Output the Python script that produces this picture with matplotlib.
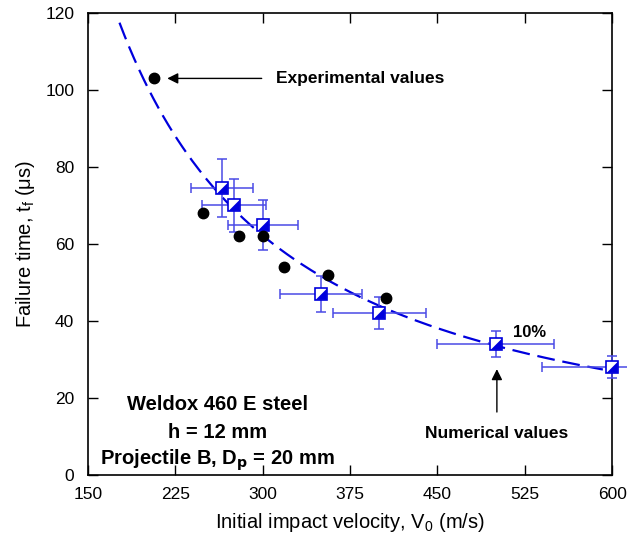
import numpy as np
import matplotlib
matplotlib.use('Agg')
import matplotlib.pyplot as plt
from matplotlib.path import Path

plt.rcParams['font.family'] = ['Liberation Sans', 'DejaVu Sans']
plt.rcParams['mathtext.default'] = 'regular'

# experimental failure times
v_exp = [207, 249, 280, 300, 318, 356, 406]
t_exp = [103, 68, 62, 62, 54, 52, 46]

# numerical failure times (error bars are 10 %)
v_num = [265, 275, 300, 350, 400, 500, 600]
t_num = [74.5, 70, 65, 47, 42, 34, 28]
err_frac = 0.10

v_num = np.array(v_num, dtype=float)
t_num = np.array(t_num, dtype=float)

# power-law trend through the numerical values
b, ln_a = np.polyfit(np.log(v_num), np.log(t_num), 1)
v_fit = np.linspace(177, 592, 200)
t_fit = np.exp(ln_a) * v_fit ** b

blue = '#0000dd'
ebar = '#4a4ae6'

fig = plt.figure(figsize=(6.27, 5.4), dpi=100)
ax = fig.add_axes([0.1404, 0.1204, 0.836, 0.8556])

ax.plot(v_fit, t_fit, color=blue, lw=1.6, dashes=(8, 3.5), zorder=2)

ax.errorbar(v_num, t_num, xerr=err_frac * v_num, yerr=err_frac * t_num,
            fmt='none', ecolor=ebar, elinewidth=1.1, capsize=3.5, capthick=1.1,
            zorder=3, clip_on=False)

# half-filled square: open square plus a filled lower-right triangle
tri = Path([(-1, -1), (1, -1), (1, 1), (-1, -1)],
           [Path.MOVETO, Path.LINETO, Path.LINETO, Path.CLOSEPOLY])
ax.plot(v_num, t_num, 's', ms=8, mfc='white', mec=blue, mew=1.2, zorder=4, clip_on=False)
ax.plot(v_num, t_num, marker=tri, ls='none', ms=7.2, mfc=blue, mec=blue, mew=0.5,
        zorder=5, clip_on=False)

ax.plot(v_exp, t_exp, 'o', ms=7.5, color='black', zorder=6)

ax.set_xlim(150, 600)
ax.set_ylim(0, 120)
ax.set_xticks([150, 225, 300, 375, 450, 525, 600])
ax.set_yticks([0, 20, 40, 60, 80, 100, 120])
ax.tick_params(direction='in', length=7, width=1, labelsize=12.5,
               top=True, right=True)
ax.tick_params(axis='x', pad=9)
ax.tick_params(axis='y', pad=10)
for s in ax.spines.values():
    s.set_linewidth(1.2)

ax.set_xlabel('Initial impact velocity, V$_0$ (m/s)', fontsize=14.5, labelpad=6)
ax.set_ylabel('Failure time, t$_f$ (\u03bcs)', fontsize=14.5, labelpad=6)

ax.annotate('Experimental values', xy=(218, 103), xytext=(311, 103),
            fontsize=12.5, fontweight='bold', va='center', ha='left',
            arrowprops=dict(arrowstyle='-|>', color='black', lw=1,
                            mutation_scale=16, shrinkB=0, shrinkA=8))
ax.annotate('Numerical values', xy=(501, 27.5), xytext=(501, 10.8),
            fontsize=12.5, fontweight='bold', va='center', ha='center',
            arrowprops=dict(arrowstyle='-|>', color='black', lw=1,
                            mutation_scale=16, shrinkB=0, shrinkA=8))
ax.text(529, 37, '10%', fontsize=12, fontweight='bold', ha='center', va='center')

ax.text(261, 18.4, 'Weldox 460 E steel', fontsize=14.5, fontweight='bold', ha='center', va='center')
ax.text(261, 11.1, 'h = 12 mm', fontsize=14.5, fontweight='bold', ha='center', va='center')
ax.text(261, 3.8, r'Projectile B, D$_\mathbf{p}$ = 20 mm', fontsize=14.5, fontweight='bold',
        ha='center', va='center')

fig.savefig('out.png', dpi=100)
